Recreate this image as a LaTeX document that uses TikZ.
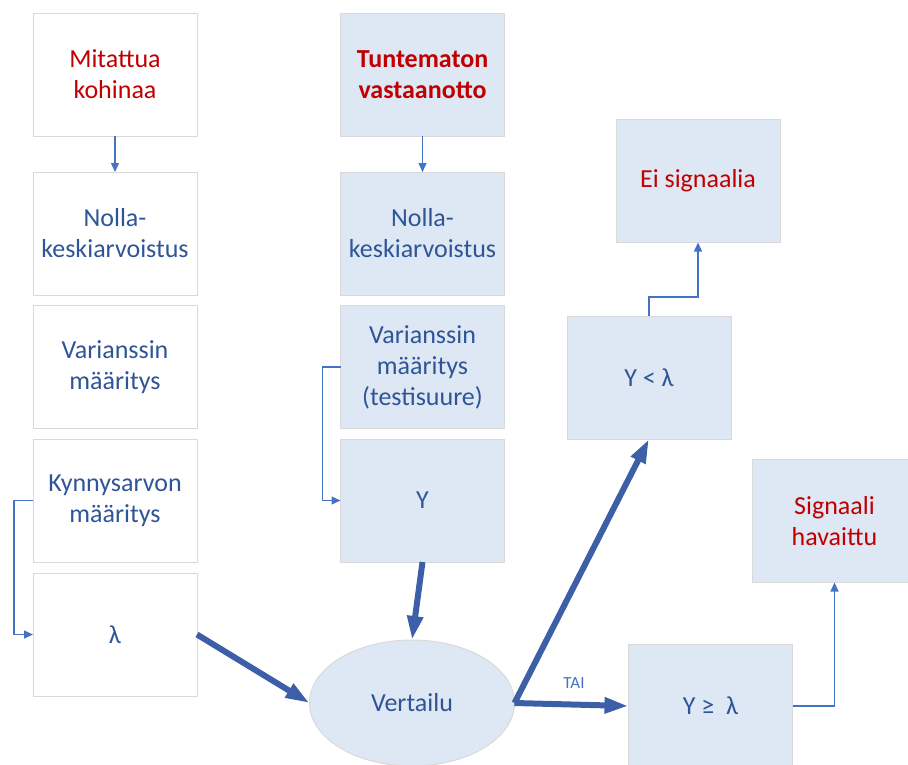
\documentclass[tikz,border=0pt]{standalone}
\usepackage{fontspec}
\setmainfont{Carlito}
\usetikzlibrary{shapes.geometric,arrows.meta}
\definecolor{txtblue}{HTML}{2F5597}
\definecolor{txtred}{HTML}{C00000}
\definecolor{boxfill}{HTML}{DEE8F4}
\definecolor{boxline}{HTML}{D9D9D9}
\definecolor{thinarr}{HTML}{4472C4}
\definecolor{thickarr}{HTML}{3C5FA8}
\tikzset{
  box/.style={draw=boxline, line width=1pt, minimum width=164pt, minimum height=123pt,
    inner sep=2pt, outer sep=0pt, align=center, text=txtblue,
    font=\fontsize{26}{31}\selectfont},
  whitebox/.style={box, fill=white},
  bluebox/.style={box, fill=boxfill},
  redtext/.style={text=txtred},
  thin/.style={draw=thinarr, line width=1.3pt, -{Triangle[length=9pt,width=8pt]}},
  thick/.style={draw=thickarr, line width=6pt, -{Triangle[length=24pt,width=15pt]}},
}
\begin{document}
\begin{tikzpicture}[x=1pt,y=-1pt]
\useasboundingbox (0,0) rectangle (908,764);
% left column
\node[whitebox, redtext] (m1) at (115,74.5) {Mitattua\\kohinaa};
\node[whitebox] (m2) at (115,233.5) {Nolla-\\keskiarvoistus};
\node[whitebox] (m3) at (115,367) {Varianssin\\määritys};
\node[whitebox] (m4) at (115,500.5) {Kynnysarvon\\määritys};
\node[whitebox] (lam) at (115,634.5) {λ};
% middle column
\node[bluebox, redtext, font=\fontsize{26}{31}\selectfont\bfseries] (t1) at (422.5,74.5) {Tuntematon\\vastaanotto};
\node[bluebox] (t2) at (422.5,233.5) {Nolla-\\keskiarvoistus};
\node[bluebox] (t3) at (422.5,367) {Varianssin\\määritys\\(testisuure)};
\node[bluebox] (Y) at (422.5,500.5) {Y};
% comparison
\node[ellipse, draw=boxline, line width=1pt, fill=boxfill, minimum width=205pt, minimum height=126pt,
  inner sep=0pt, outer sep=0pt, text=txtblue, font=\fontsize{26}{31}\selectfont] (V) at (412,703) {Vertailu};
% right side
\node[bluebox] (Ylt) at (649,377.5) {Y < λ};
\node[bluebox, redtext] (Ei) at (698,181) {Ei signaalia};
\node[bluebox] (Yge) at (710.5,706) {Y ≥\ \ λ};
\node[bluebox, redtext] (Sig) at (834.5,521) {Signaali\\havaittu};
% thin connectors
\draw[thin] (m1.south) -- (m2.north);
\draw[thin] (t1.south) -- (t2.north);
\draw[thin] (m4.west) -- ++(-19,0) |- (lam.west);
\draw[thin] (t3.west) -- ++(-18,0) |- (Y.west);
\draw[thin] (Ylt.north) -- ++(0,-19) -| (Ei.south);
\draw[thin] (Yge.east) -| (Sig.south);
% thick connectors
\draw[thick] (lam.east) -- (V.west);
\draw[thick] (Y.south) -- (V.north);
\draw[thick] (V.east) -- (Ylt.south);
\draw[thick] (V.east) -- (Yge.west);
\node[text=thinarr, font=\fontsize{17}{20}\selectfont, inner sep=0pt] (tai) at (574,683) {TAI};
\end{tikzpicture}
\end{document}
